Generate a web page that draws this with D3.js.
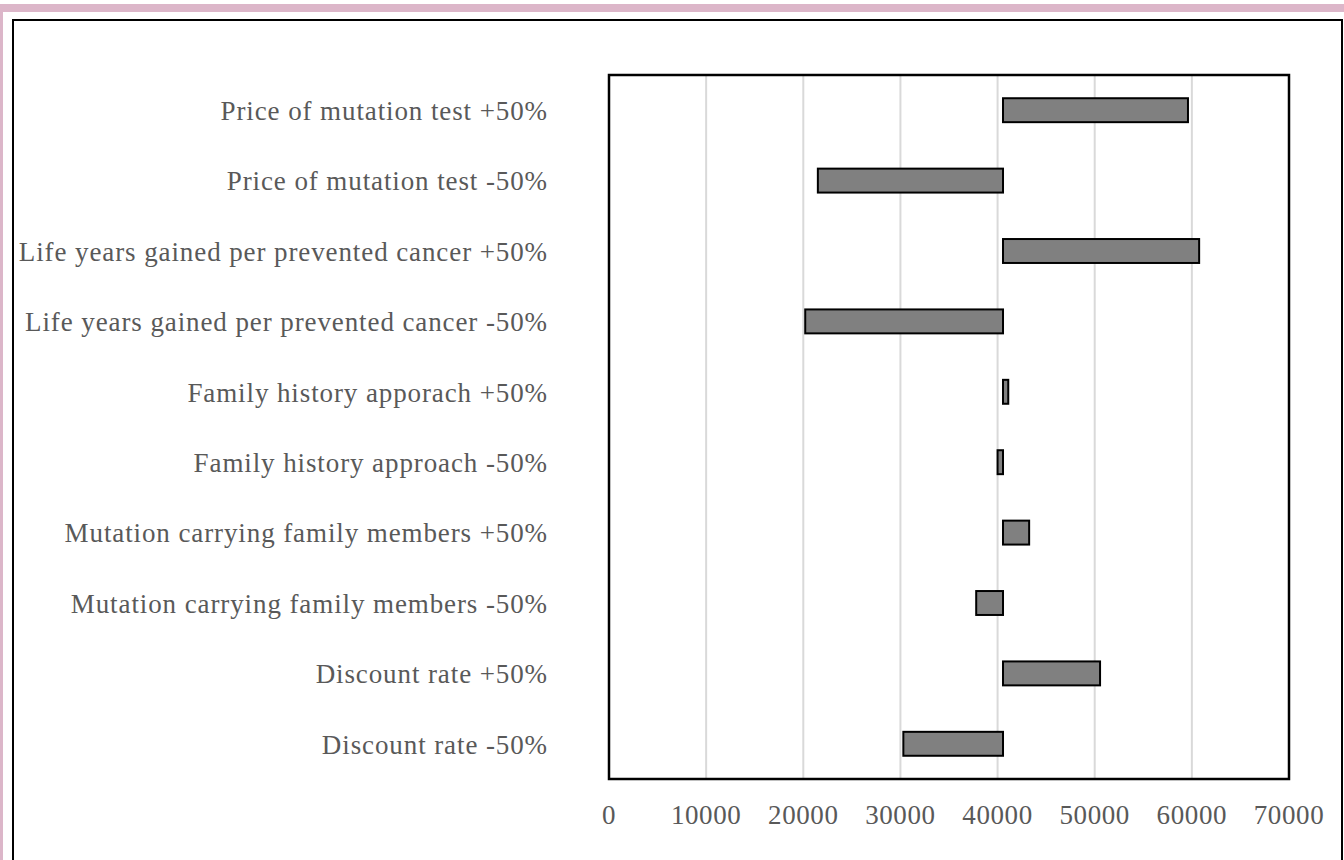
<!DOCTYPE html>
<html>
<head>
<meta charset="utf-8">
<script src="https://cdnjs.cloudflare.com/ajax/libs/d3/7.8.5/d3.min.js"></script>
<style>
  body { margin: 0; background: #fff; }
  svg { display: block; }
  .cat-label, .tick-label { font-family: "Liberation Serif", "Times New Roman", serif; fill: #595959; }
</style>
</head>
<body>
<div id="chart"></div>
<script>
// tornado chart data, base value ~40560
var categories = [
    'Price of mutation test +50%',
    'Price of mutation test -50%',
    'Life years gained per prevented cancer +50%',
    'Life years gained per prevented cancer -50%',
    'Family history apporach +50%',
    'Family history approach -50%',
    'Mutation carrying family members +50%',
    'Mutation carrying family members -50%',
    'Discount rate +50%',
    'Discount rate -50%'
];
var baseValue = 40560;
var scenarioValues = [59600, 21500, 60750, 20200, 41100, 40000, 43250, 37800, 50550, 30300];
var tickValues = [0, 10000, 20000, 30000, 40000, 50000, 60000, 70000];

var width = 1344,
    height = 860;

var svg = d3.select('#chart')
    .append('svg')
    .attr('width', width)
    .attr('height', height);

// pink page edge
svg.append('rect')
    .attr('x', 0).attr('y', 4)
    .attr('width', width).attr('height', 8)
    .attr('fill', '#dcb6c9');
svg.append('rect')
    .attr('x', 0).attr('y', 4)
    .attr('width', 3).attr('height', height)
    .attr('fill', '#dcb6c9');

// outer chart border
svg.append('rect')
    .attr('x', 13).attr('y', 20)
    .attr('width', 1329).attr('height', 900)
    .attr('fill', 'none')
    .attr('stroke', '#000')
    .attr('stroke-width', 2);

var plot = { left: 609, right: 1289, top: 75, bottom: 779 };

var x = d3.scaleLinear()
    .domain([0, 70000])
    .range([plot.left, plot.right]);

var y = d3.scaleBand()
    .domain(categories)
    .range([plot.top, plot.bottom])
    .paddingInner(0.66)
    .paddingOuter(0.33);

// gridlines
svg.append('g')
    .selectAll('line')
    .data(tickValues.slice(1, -1))
    .enter()
    .append('line')
    .attr('x1', function (d) { return x(d); })
    .attr('x2', function (d) { return x(d); })
    .attr('y1', plot.top)
    .attr('y2', plot.bottom)
    .attr('stroke', '#d9d9d9')
    .attr('stroke-width', 2);

// bars
svg.append('g')
    .selectAll('rect')
    .data(scenarioValues)
    .enter()
    .append('rect')
    .attr('x', function (d) { return x(Math.min(d, baseValue)); })
    .attr('y', function (d, i) { return y(categories[i]); })
    .attr('width', function (d) { return Math.abs(x(d) - x(baseValue)); })
    .attr('height', y.bandwidth())
    .attr('fill', '#808080')
    .attr('stroke', '#000')
    .attr('stroke-width', 2);

// plot frame
svg.append('rect')
    .attr('x', plot.left).attr('y', plot.top)
    .attr('width', plot.right - plot.left)
    .attr('height', plot.bottom - plot.top)
    .attr('fill', 'none')
    .attr('stroke', '#000')
    .attr('stroke-width', 2.5);

// category labels
svg.append('g')
    .selectAll('text')
    .data(categories)
    .enter()
    .append('text')
    .attr('class', 'cat-label')
    .attr('x', 548)
    .attr('y', function (d) { return y(d) + y.bandwidth() / 2; })
    .attr('dy', '0.36em')
    .attr('text-anchor', 'end')
    .style('font-size', '27px')
    .style('letter-spacing', '0.9px')
    .text(function (d) { return d; });

// x tick labels
svg.append('g')
    .selectAll('text')
    .data(tickValues)
    .enter()
    .append('text')
    .attr('class', 'tick-label')
    .attr('x', function (d) { return x(d); })
    .attr('y', 824)
    .attr('text-anchor', 'middle')
    .style('font-size', '27px')
    .style('letter-spacing', '0.6px')
    .text(function (d) { return d; });
</script>
</body>
</html>
